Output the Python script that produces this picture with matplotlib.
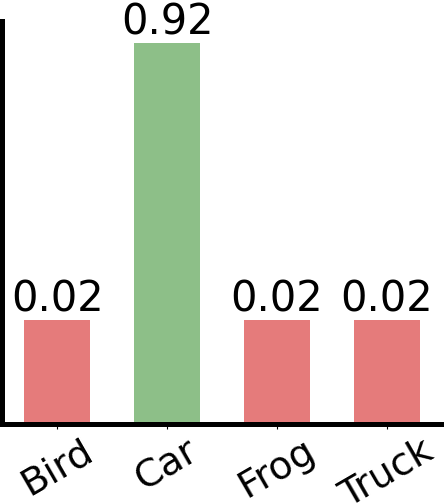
import matplotlib
matplotlib.use("Agg")
import matplotlib.pyplot as plt
import numpy as np

# class probabilities
classes = ["Bird", "Car", "Frog", "Truck"]
probs = [0.02, 0.92, 0.02, 0.02]
predicted = "Car"

# small values get a minimum visible bar height
min_height = 0.25
heights = np.maximum(probs, min_height)
colors = ["#8dbf88" if c == predicted else "#e57b7b" for c in classes]

fig = plt.figure(figsize=(4.44, 5.04), dpi=100)
ax = fig.add_axes([0.0056, 0.1597, 0.9888, 0.7983])

x = np.arange(len(classes))
bars = ax.bar(x, heights, width=0.6, color=colors)

for b, p in zip(bars, probs):
    ax.text(
        b.get_x() + b.get_width() / 2,
        b.get_height(),
        f"{p:.2f}",
        ha="center",
        va="bottom",
        fontsize=30,
    )

ax.set_xlim(-0.5, 3.5)
ax.set_ylim(0, 0.973)
ax.set_xticks(x)
ax.set_xticklabels(classes, rotation=30, fontsize=27.5)
ax.set_yticks([])

ax.spines["top"].set_visible(False)
ax.spines["right"].set_visible(False)
ax.spines["left"].set_linewidth(3.6)
ax.spines["bottom"].set_linewidth(3.6)

fig.savefig("out.png", dpi=100)
